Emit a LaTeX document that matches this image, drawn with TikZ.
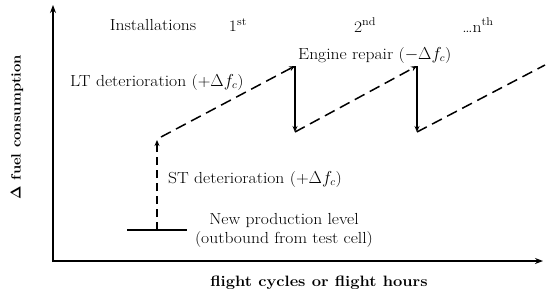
\documentclass[tikz,border=0pt]{standalone}
\usepackage{amsmath}
\usepackage{fontspec}
\setmainfont{Latin Modern Roman}[FakeStretch=1.1]
\usetikzlibrary{arrows.meta}
\begin{document}
\begin{tikzpicture}[x=1pt,y=-1pt,
  lbl/.style={font=\fontsize{16}{19}\selectfont, inner sep=0pt},
  axlbl/.style={font=\fontsize{15}{18}\selectfont\bfseries, inner sep=0pt},
  axis/.style={line width=1.5pt, -{Stealth[length=8pt,width=6pt]}},
  dsh/.style={line width=1.5pt, dash pattern=on 11pt off 6pt, -{Stealth[length=6pt,width=5pt]}},
  vdsh/.style={line width=1.5pt, dash pattern=on 8pt off 5pt, -{Stealth[length=6pt,width=5pt]}},
  rep/.style={line width=1.5pt, -{Stealth[length=6pt,width=5pt]}}]
\useasboundingbox (0,0) rectangle (550,295);
% axes
\coordinate (o) at (53,261);
\coordinate (ytop) at (53,5);
\coordinate (xend) at (543,261);
\draw[axis] (o) -- (ytop);
\draw[line width=1.5pt] (53,262) -- (o);
\draw[axis] (o) -- (xend);
\node[axlbl, font=\fontsize{13.5}{16}\selectfont\bfseries, rotate=90] (ylab) at (17,127) {$\boldsymbol{\Delta}$ fuel consumption};
\node[axlbl] (xlab) at (319,283) {flight cycles or flight hours};
% curve points
\coordinate (bl) at (127,230);
\coordinate (br) at (187,230);
\coordinate (b0) at (157,230);
\coordinate (st) at (157,140);
\coordinate (p0) at (161,137);
\coordinate (p1) at (295,66);
\coordinate (q1) at (295,132);
\coordinate (p2) at (417,66);
\coordinate (q2) at (417,132);
\coordinate (p3) at (545,65);
\draw[line width=1.5pt] (bl) -- (br);
\draw[vdsh] (b0) -- (st);
\draw[dsh] (p0) -- (p1);
\draw[rep] (p1) -- (q1);
\draw[dsh] (q1) -- (p2);
\draw[rep] (p2) -- (q2);
\draw[line width=1.5pt, dash pattern=on 11pt off 6pt] (q2) -- (p3);
% labels
\node[lbl] (inst) at (153,25) {Installations};
\node[lbl] (i1) at (238,25) {1\textsuperscript{st}};
\node[lbl] (i2) at (365,25) {2\textsuperscript{nd}};
\node[lbl] (in) at (478,25) {\dots n\textsuperscript{th}};
\node[lbl, anchor=west] (lt) at (70,82) {LT deterioration (+$\Delta f_c$)};
\node[lbl, anchor=west] (er) at (298,55) {Engine repair ($-\Delta f_c$)};
\node[lbl, anchor=west] (std) at (168,179) {ST deterioration (+$\Delta f_c$)};
\node[lbl, align=center] (np) at (284,230) {New production level\\(outbound from test cell)};
\end{tikzpicture}
\end{document}
